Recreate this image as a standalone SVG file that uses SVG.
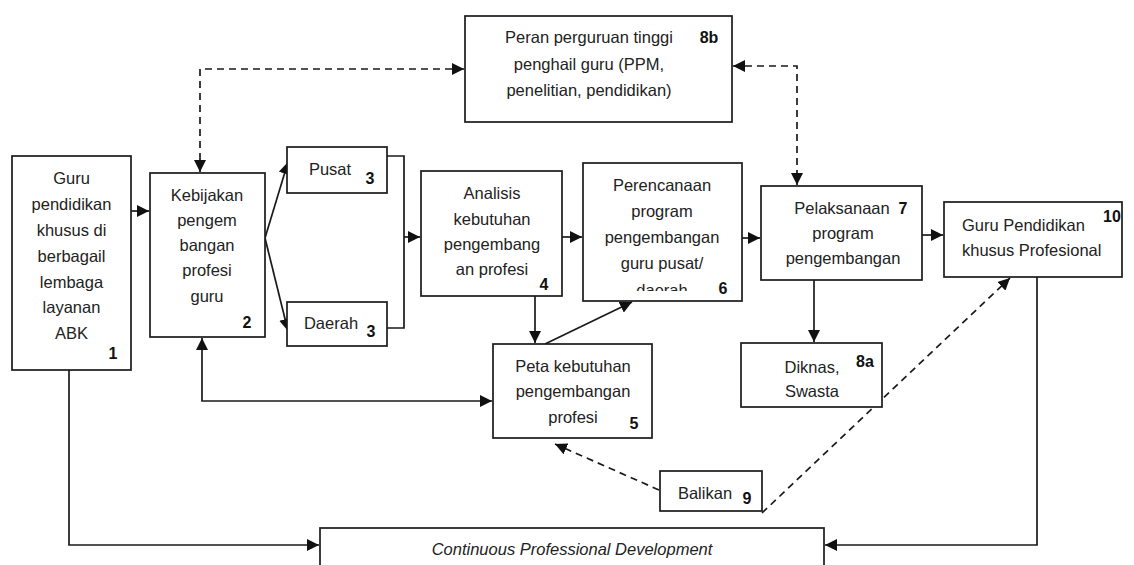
<svg xmlns="http://www.w3.org/2000/svg" width="1134" height="565" viewBox="0 0 1134 565">
<style>
  .box { fill: #fff; stroke: #1a1a1a; stroke-width: 1.7; }
  .t { font-family: "Liberation Sans", Arial, sans-serif; font-size: 16.5px; fill: #222; text-anchor: middle; }
  .tl { font-family: "Liberation Sans", Arial, sans-serif; font-size: 16.5px; fill: #222; }
  .n { font-family: "Liberation Sans", Arial, sans-serif; font-size: 16px; font-weight: bold; fill: #111; text-anchor: middle; }
  .ln { fill: none; stroke: #1a1a1a; stroke-width: 1.7; }
  .dash { fill: none; stroke: #1a1a1a; stroke-width: 1.7; stroke-dasharray: 7 5; }
</style>
<defs>
  <marker id="arr" viewBox="0 0 10 10" refX="10" refY="5" markerWidth="12" markerHeight="12" markerUnits="userSpaceOnUse" orient="auto-start-reverse">
    <path d="M0,0 L10,5 L0,10 z" fill="#111"/>
  </marker>
  <clipPath id="clip6"><rect x="583" y="163" width="159" height="128"/></clipPath>
</defs>
<rect width="1134" height="565" fill="#fff"/>

<g id="connectors">
  <path class="ln" d="M131,211 H149" marker-end="url(#arr)"/>
  <path class="ln" d="M265,238 L288,162" marker-end="url(#arr)"/>
  <path class="ln" d="M265,238 L288,331" marker-end="url(#arr)"/>
  <path class="ln" d="M387,156 H404 V328 H387"/>
  <path class="ln" d="M404,237 H420" marker-end="url(#arr)"/>
  <path class="ln" d="M562,237 H582" marker-end="url(#arr)"/>
  <path class="ln" d="M742,238 H760" marker-end="url(#arr)"/>
  <path class="ln" d="M922,235 H943" marker-end="url(#arr)"/>
  <path class="ln" d="M535,296 V343" marker-end="url(#arr)"/>
  <path class="ln" d="M545,344 L632,302" marker-end="url(#arr)"/>
  <path class="ln" d="M814,280 V342" marker-end="url(#arr)"/>
  <path class="ln" d="M202,338 V401 H492" marker-start="url(#arr)" marker-end="url(#arr)"/>
  <path class="ln" d="M69,370 V545 H319" marker-end="url(#arr)"/>
  <path class="ln" d="M1037,277 V545 H825" marker-end="url(#arr)"/>
  <path class="dash" d="M200,172 V69 H464" marker-start="url(#arr)" marker-end="url(#arr)"/>
  <path class="dash" d="M733,66 H797 V185" marker-start="url(#arr)" marker-end="url(#arr)"/>
  <path class="dash" d="M659,490 L555,444" marker-end="url(#arr)"/>
  <path class="dash" d="M762,513 L1010,278" marker-end="url(#arr)"/>
</g>

<g id="node1">
  <rect class="box" x="12" y="156" width="119" height="214"/>
  <text class="t" x="71.5" y="184">Guru</text>
  <text class="t" x="71.5" y="210">pendidikan</text>
  <text class="t" x="71.5" y="236">khusus di</text>
  <text class="t" x="71.5" y="262">berbagail</text>
  <text class="t" x="71.5" y="288">lembaga</text>
  <text class="t" x="71.5" y="313">layanan</text>
  <text class="t" x="71.5" y="339">ABK</text>
  <text class="n" x="113" y="359">1</text>
</g>

<g id="node2">
  <rect class="box" x="150" y="173" width="115" height="164"/>
  <text class="t" x="207" y="201">Kebijakan</text>
  <text class="t" x="207" y="226">pengem</text>
  <text class="t" x="207" y="251">bangan</text>
  <text class="t" x="207" y="276">profesi</text>
  <text class="t" x="207" y="302">guru</text>
  <text class="n" x="247" y="328">2</text>
</g>

<g id="node3a">
  <rect class="box" x="287" y="147" width="100" height="46"/>
  <text class="t" x="330" y="175">Pusat</text>
  <text class="n" x="370" y="184">3</text>
</g>

<g id="node3b">
  <rect class="box" x="287" y="302" width="100" height="44"/>
  <text class="t" x="331" y="329">Daerah</text>
  <text class="n" x="371" y="337">3</text>
</g>

<g id="node4">
  <rect class="box" x="421" y="171" width="141" height="125"/>
  <text class="t" x="492" y="199">Analisis</text>
  <text class="t" x="492" y="225">kebutuhan</text>
  <text class="t" x="492" y="250">pengembang</text>
  <text class="t" x="492" y="275">an profesi</text>
  <text class="n" x="544" y="290">4</text>
</g>

<g id="node6">
  <rect class="box" x="583" y="163" width="159" height="138"/>
  <text class="t" x="662" y="191">Perencanaan</text>
  <text class="t" x="662" y="217">program</text>
  <text class="t" x="662" y="243">pengembangan</text>
  <text class="t" x="662" y="269">guru pusat/</text>
  <text class="t" x="662" y="296" clip-path="url(#clip6)">daerah</text>
  <text class="n" x="723" y="294">6</text>
</g>

<g id="node7">
  <rect class="box" x="761" y="186" width="161" height="94"/>
  <text class="t" x="842" y="214">Pelaksanaan</text>
  <text class="n" x="903" y="214">7</text>
  <text class="t" x="843" y="239">program</text>
  <text class="t" x="843" y="264">pengembangan</text>
</g>

<g id="node10">
  <rect class="box" x="944" y="202" width="178" height="75"/>
  <text class="tl" x="962" y="231">Guru Pendidikan</text>
  <text class="tl" x="962" y="256">khusus Profesional</text>
  <text class="n" x="1112" y="222">10</text>
</g>

<g id="node8b">
  <rect class="box" x="465" y="16" width="267" height="106"/>
  <text class="t" x="589" y="43">Peran perguruan tinggi</text>
  <text class="t" x="589" y="70">penghail guru (PPM,</text>
  <text class="t" x="589" y="96">penelitian, pendidikan)</text>
  <text class="n" x="709" y="43">8b</text>
</g>

<g id="node5">
  <rect class="box" x="493" y="344" width="159" height="94"/>
  <text class="t" x="573" y="372">Peta kebutuhan</text>
  <text class="t" x="573" y="397">pengembangan</text>
  <text class="t" x="573" y="423">profesi</text>
  <text class="n" x="634" y="429">5</text>
</g>

<g id="node8a">
  <rect class="box" x="741" y="343" width="141" height="64"/>
  <text class="t" x="812" y="373">Diknas,</text>
  <text class="t" x="812" y="397">Swasta</text>
  <text class="n" x="865" y="367">8a</text>
</g>

<g id="node9">
  <rect class="box" x="660" y="471" width="102" height="40"/>
  <text class="t" x="705" y="499">Balikan</text>
  <text class="n" x="747" y="504">9</text>
</g>

<g id="nodeCPD">
  <rect class="box" x="320" y="528" width="504" height="50"/>
  <text class="t" x="572" y="555" font-style="italic">Continuous Professional Development</text>
</g>
</svg>
